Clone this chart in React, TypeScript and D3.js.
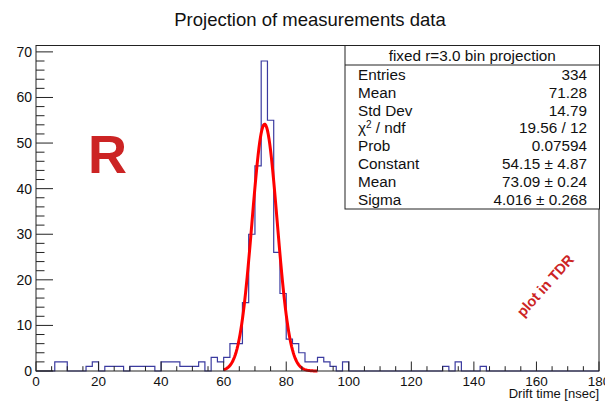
import React from "react";
import * as d3 from "d3";

// histogram: 90 bins of width 2 from 0 to 180 (drift time, nsec)
const binWidth = 2;
const counts = [
  0, 0, 0, 2, 2, 0, 0, 0, 1, 2,
  0, 1, 1, 1, 0, 1, 1, 1, 1, 0,
  2, 2, 2, 1, 1, 1, 2, 0, 3, 2,
  3, 6, 6, 15, 30, 45, 68, 55, 26, 17,
  7, 6, 4, 2, 2, 3, 2, 1, 0, 2,
  0, 0, 0, 0, 0, 0, 0, 0, 0, 0,
  0, 0, 0, 0, 0, 1, 0, 2, 0, 0,
  0, 1, 0, 0, 0, 0, 0, 0, 0, 0,
  0, 0, 0, 0, 0, 0, 0, 0, 0, 0,
];

// gaussian fit (values from the stats box), range 60..90
const fitConstant = 54.15;
const fitMean = 73.09;
const fitSigma = 4.016;
const fitRange = [60, 90];

const xTicks = [0, 20, 40, 60, 80, 100, 120, 140, 160, 180];
const yTicks = [0, 10, 20, 30, 40, 50, 60, 70];

const statsHeader = "fixed r=3.0 bin projection";
const statsLabels = ["Entries", "Mean", "Std Dev", "chi2", "Prob", "Constant", "Mean", "Sigma"];
const statsValues = ["334", "71.28", "14.79", "19.56 / 12", "0.07594", "54.15 \u00b1 4.87", "73.09 \u00b1 0.24", "4.016 \u00b1 0.268"];

const W = 605;
const H = 406;
const left = 36;
const right = 599;
const top = 45.5;
const bottom = 371;
const font = "'Liberation Sans', Arial, Helvetica, sans-serif";

export default function App() {
  const x = d3.scaleLinear().domain([0, 180]).range([left, right]);
  const yMax = d3.max(counts)! * 1.05;
  const y = d3.scaleLinear().domain([0, yMax]).range([bottom, top]);

  const steps = counts.map((c, i) => ({ x: i * binWidth, y: c }));
  steps.push({ x: counts.length * binWidth, y: counts[counts.length - 1] });
  const histPath = d3
    .line<{ x: number; y: number }>()
    .x((d) => x(d.x))
    .y((d) => y(d.y))
    .curve(d3.curveStepAfter)(steps);

  const fitXs = d3.range(fitRange[0], fitRange[1] + 0.001, 0.25);
  const gauss = (v: number) => fitConstant * Math.exp(-0.5 * ((v - fitMean) / fitSigma) ** 2);
  const fitPath = d3
    .line<number>()
    .x((v) => x(v))
    .y((v) => y(gauss(v)))(fitXs);

  const xMinor = d3.range(0, 181, 5).filter((v) => v % 20 !== 0);
  const yMinor = d3.range(0, yMax, 2).filter((v) => v % 10 !== 0);

  // stats box
  const sbLeft = 345;
  const sbRight = 599.5;
  const sbTop = 45.5;
  const sbSep = 65;
  const sbBottom = 209;
  const rowY = d3.scaleLinear().domain([0, 7]).range([80, 204.5]);

  return (
    <svg width={W} height={H} style={{ position: "absolute", left: 0, top: 0, background: "#fff" }} fontFamily={font}>
      <rect x={0} y={0} width={W} height={H} fill="#fff" />
      <text x={310} y={26} textAnchor="middle" fontSize={18.5} fill="#111">
        Projection of measurements data
      </text>

      {/* histogram + fit */}
      <path d={histPath ?? ""} fill="none" stroke="#3b3ba0" strokeWidth={1.2} />
      <path d={fitPath ?? ""} fill="none" stroke="#ff0000" strokeWidth={3} strokeLinejoin="round" />

      {/* frame */}
      <rect x={left} y={top} width={right - left} height={bottom - top} fill="none" stroke="#222" strokeWidth={1} />

      {/* x axis */}
      {xTicks.map((t) => (
        <g key={"xt" + t}>
          <line x1={x(t)} x2={x(t)} y1={bottom} y2={bottom - 9.5} stroke="#222" />
          <text x={x(t)} y={385.5} textAnchor="middle" fontSize={13.5} fill="#111">
            {t}
          </text>
        </g>
      ))}
      {xMinor.map((t) => (
        <line key={"xm" + t} x1={x(t)} x2={x(t)} y1={bottom} y2={bottom - 4.8} stroke="#222" />
      ))}
      <text x={599} y={398} textAnchor="end" fontSize={13} fill="#111">
        Drift time [nsec]
      </text>

      {/* y axis */}
      {yTicks.map((t) => (
        <g key={"yt" + t}>
          <line x1={left} x2={left + 17} y1={y(t)} y2={y(t)} stroke="#222" />
          <text x={32} y={y(t) + 5} textAnchor="end" fontSize={14} fill="#111">
            {t}
          </text>
        </g>
      ))}
      {yMinor.map((t) => (
        <line key={"ym" + t} x1={left} x2={left + 8.5} y1={y(t)} y2={y(t)} stroke="#222" />
      ))}

      {/* stats box */}
      <rect x={sbLeft} y={sbTop} width={sbRight - sbLeft} height={sbBottom - sbTop} fill="#fff" stroke="#222" />
      <line x1={sbLeft} x2={sbRight} y1={sbSep} y2={sbSep} stroke="#222" />
      <text x={(sbLeft + sbRight) / 2} y={60.5} textAnchor="middle" fontSize={15.3} fill="#111">
        {statsHeader}
      </text>
      {statsLabels.map((l, i) => (
        <g key={"s" + i}>
          <text x={358} y={rowY(i)} fontSize={15.3} fill="#111">
            {l === "chi2" ? (
              <>
                {"\u03c7"}
                <tspan dy={-5} fontSize={10}>2</tspan>
                <tspan dy={5}>{" / ndf"}</tspan>
              </>
            ) : (
              l
            )}
          </text>
          <text x={587} y={rowY(i)} textAnchor="end" fontSize={15.3} fill="#111">
            {statsValues[i]}
          </text>
        </g>
      ))}

      {/* logo-ish annotations */}
      <text x={88} y={173} fontSize={54} fontWeight="bold" fill="#cc2424">
        R
      </text>
      <text
        transform="translate(549,289) rotate(-48)"
        textAnchor="middle"
        fontSize={14.5}
        fontWeight="bold"
        fill="#cc2424"
      >
        plot in TDR
      </text>
    </svg>
  );
}
